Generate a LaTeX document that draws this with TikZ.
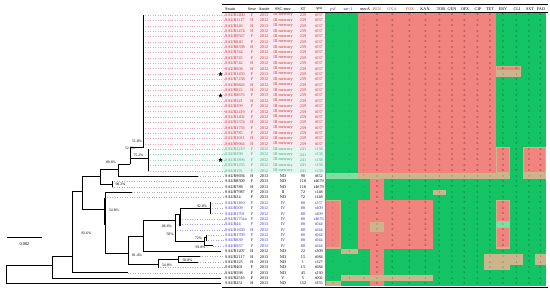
\documentclass[tikz,border=0pt]{standalone}
\usepackage{fontspec}
\setmainfont{Liberation Serif}
\usetikzlibrary{shapes.geometric}
\definecolor{cR}{RGB}{242,132,128}
\definecolor{cG}{RGB}{20,195,100}
\definecolor{cT}{RGB}{204,180,140}
\definecolor{cLG}{RGB}{130,222,160}
\definecolor{tR}{RGB}{200,45,45}
\definecolor{tG}{RGB}{50,170,115}
\definecolor{tB}{RGB}{45,45,205}
\definecolor{hR}{RGB}{190,80,70}
\definecolor{bgR}{RGB}{252,233,240}
\definecolor{bgG}{RGB}{228,246,240}
\definecolor{dR}{RGB}{236,160,195}
\definecolor{dG}{RGB}{140,210,180}
\definecolor{dB}{RGB}{165,165,235}
\definecolor{dK}{RGB}{175,175,175}
\def\colC{{333,349.5,364,377,392.5,409.5,425.5,439.5,452,464.5,477.5,490,503,516.5,529,540.5}}
\def\pR{-,-,+,R,R,R,R,R,R,R,R,R,S,S,S,S}
\def\pRe{-,-,+,R,R,R,R,R,R,R,R,R,R,R,S,S}
\def\pRi{-,-,+,R,R,R,R,R,R,R,R,R,I,I,S,S}
\def\pG{-,-,+,R,R,R,R,R,R,R,R,R,R,S,R,R}
\def\pT{-,-,+,I,I,I,I,I,I,I,I,I,I,S,I,I}
\def\pK{-,-,-,R,S,S,S,S,S,S,S,S,S,S,S,S}
\def\pKt{-,-,-,R,S,S,S,I,S,S,S,S,S,S,S,S}
\def\pB{+,-,+,R,R,R,R,S,S,S,S,S,R,S,S,S}
\def\pBs{+,-,+,I,R,R,R,S,S,S,S,S,S,S,S,S}
\def\pBi{+,-,+,I,R,R,R,S,S,S,S,S,R,S,S,S}
\def\pKa{-,I,-,R,S,S,S,S,S,S,S,S,S,S,S,S}
\def\pKb{-,-,-,R,S,S,S,S,S,S,S,I,I,I,S,I}
\def\pKc{-,-,-,R,S,S,S,S,S,S,S,I,I,S,S,S}
\def\pKd{-,I,I,I,I,I,I,S,S,S,S,S,S,S,S,S}
\def\pKe{I,-,-,R,S,S,S,S,S,S,S,S,S,S,S,S}
\newcommand\mytrow[8]{%
  \pgfmathsetmacro\yy{15+5.37*#1}%
  \node[tx,anchor=west,text=#8] (st#1) at (225,\yy) {#2};
  \node[tx,text=#8] (sx#1) at (252,\yy) {#3};
  \node[tx,text=#8] (yr#1) at (264,\yy) {#4};
  \node[tx,text=#8] (sc#1) at (283,\yy) {#5};
  \node[tx,text=#8] (ty#1) at (303,\yy) {#6};
  \node[tx,text=#8] (sp#1) at (319,\yy) {#7};
}
\newcommand\myletters[2]{%
  \pgfmathsetmacro\yy{15+5.37*#1}%
  \foreach \c [count=\k from 0] in #2 {
    \pgfmathsetmacro\xx{\colC[\k]}
    \node[lt] (l#1-\k) at (\xx,\yy) {\c};
  }
}
\newcommand\myfill[5]{\fill[#1] (#2,{12.315+5.37*#4}) rectangle (#3,{12.315+5.37*(#5+1)});}
\newcommand\myblk[4]{\fill[cT] (#1,{12.315+5.37*#3}) rectangle (#2,{12.315+5.37*(#4+1)});
  \fill[cR] ({#1+1.3},{12.315+5.37*#3+1.1}) rectangle ({#2-1.3},{12.315+5.37*(#4+1)-1.1});}
\begin{document}
\begin{tikzpicture}[x=1pt,y=-1pt,
  tx/.style={font=\fontsize{4.2}{5}\selectfont, inner sep=0pt},
  lt/.style={font=\fontsize{3}{3}\selectfont, inner sep=0pt, text opacity=0.55},
  bs/.style={font=\fontsize{3.8}{4}\selectfont, inner sep=0.3pt},
  br/.style={line width=0.9pt, line cap=rect},
  dt/.style={dotted, line width=0.45pt, shorten >=0.8pt},
  stmark/.style={star, star points=5, star point ratio=2.4, fill=black, inner sep=0pt, minimum size=4.6pt}]
\useasboundingbox (0,0) rectangle (550,294);
\fill[white] (0,0) rectangle (550,294);
% row tints
\fill[bgR] (222,12.315) rectangle (325,146.565);
\fill[bgG] (222,146.565) rectangle (325,173.415);
% colour grid
\myfill{cG}{325}{546}{0}{50}
\myfill{cR}{358}{496}{0}{29}
\myfill{cR}{358}{433}{35}{43}
\myfill{cR}{370}{384}{31}{50}
\myblk{325}{341}{35}{43}
\myblk{496}{521}{10}{10}
\myfill{cT}{496}{521}{11}{11}
\myblk{496}{510}{25}{29}
\myblk{523}{546}{25}{29}
\myfill{cT}{358}{510}{30}{30}
\myfill{cT}{523}{546}{30}{30}
\myfill{cLG}{325}{358}{30}{30}
\myfill{cT}{433}{446}{33}{33}
\myblk{496}{510}{35}{38}
\myfill{cLG}{496}{510}{39}{39}
\myblk{496}{510}{40}{43}
\myfill{cT}{370}{384}{39}{40}
\myfill{cT}{341}{358}{44}{44}
\myfill{cT}{484}{523}{45}{46}
\myfill{cT}{484}{510}{47}{47}
\myfill{cT}{535}{546}{45}{46}
\myfill{cT}{341}{433}{49}{49}
\myfill{cT}{325}{341}{50}{50}
\draw[line width=0.8pt, color=gray!70!green] (325.4,12.315) -- (325.4,286.2);
% cell letters
\foreach \r in {0,1,...,9} {\myletters{\r}{\pR}}
\myletters{10}{\pRe}
\myletters{11}{\pRi}
\foreach \r in {12,13,...,24} {\myletters{\r}{\pR}}
\foreach \r in {25,26,...,29} {\myletters{\r}{\pG}}
\myletters{30}{\pT}
\myletters{31}{\pK}
\myletters{32}{\pK}
\myletters{33}{\pKt}
\myletters{34}{\pK}
\foreach \r in {35,36,37,38} {\myletters{\r}{\pB}}
\myletters{39}{\pBs}
\myletters{40}{\pBi}
\foreach \r in {41,42,43} {\myletters{\r}{\pB}}
\myletters{44}{\pKa}
\myletters{45}{\pKb}
\myletters{46}{\pKb}
\myletters{47}{\pKc}
\myletters{48}{\pK}
\myletters{49}{\pKd}
\myletters{50}{\pKe}
% header
\draw[line width=0.6pt] (222,4.5) -- (548,4.5);
\draw[line width=0.3pt] (222,12.3) -- (548,12.3);
\draw[line width=0.6pt] (222,287.6) -- (548,287.6);
\node[tx,anchor=west] (hStrain) at (225,9) {Strain};
\node[tx] (hSexe) at (252,9) {Sexe};
\node[tx] (hAnnee) at (264,9) {Année};
\node[tx] (hSCC) at (283,9) {SSC-mec};
\node[tx] (hST) at (303,9) {ST};
\node[tx] (hspa) at (319,9) {\itshape spa};
\node[tx,text=tB] (hpvl) at (333,9) {\itshape pvl};
\node[tx,text=tB] (hsar) at (348,9) {\itshape sar-1};
\node[tx] (hmec) at (365,9) {\itshape mecA};
\node[tx,text=hR] (hPEN) at (377,9) {PEN};
\node[tx,text=hR] (hOXA) at (392,9) {OXA};
\node[tx,text=hR] (hFOX) at (410,9) {FOX};
\node[tx] (hKAN) at (425,9) {KAN};
\node[tx] (hTOB) at (441,9) {TOB};
\node[tx] (hGEN) at (452,9) {GEN};
\node[tx] (hOFX) at (465,9) {OFX};
\node[tx] (hCIP) at (478,9) {CIP};
\node[tx] (hTET) at (490,9) {TET};
\node[tx] (hERY) at (503,9) {ERY};
\node[tx] (hCLI) at (517,9) {CLI};
\node[tx] (hSXT) at (530,9) {SXT};
\node[tx] (hFAD) at (541,9) {FAD};
% rows
\mytrow{0}{SAUR1400}{F}{2013}{III mercury}{239}{t037}{tR}
\mytrow{1}{SAUR1117}{H}{2012}{III mercury}{239}{t037}{tR}
\mytrow{2}{SAUR246}{H}{2013}{III mercury}{239}{t037}{tR}
\mytrow{3}{SAUR1474}{H}{2012}{III mercury}{239}{t037}{tR}
\mytrow{4}{SAUR9567}{F}{2012}{III mercury}{239}{t037}{tR}
\mytrow{5}{SAUR840}{F}{2012}{III mercury}{239}{t037}{tR}
\mytrow{6}{SAUR8598}{H}{2012}{III mercury}{239}{t037}{tR}
\mytrow{7}{SAUR744}{F}{2012}{III mercury}{239}{t037}{tR}
\mytrow{8}{SAUR745}{F}{2012}{III mercury}{239}{t037}{tR}
\mytrow{9}{SAUR742}{H}{2012}{III mercury}{239}{t037}{tR}
\mytrow{10}{SAUR608}{H}{2012}{III mercury}{239}{t037}{tR}
\mytrow{11}{SAUR1450}{F}{2013}{III mercury}{239}{t037}{tR}
\mytrow{12}{SAUR7238}{F}{2012}{III mercury}{239}{t037}{tR}
\mytrow{13}{SAUR9826}{H}{2012}{III mercury}{239}{t037}{tR}
\mytrow{14}{SAUR822}{H}{2012}{III mercury}{239}{t037}{tR}
\mytrow{15}{SAUR8676}{F}{2013}{III mercury}{239}{t037}{tR}
\mytrow{16}{SAUR341}{H}{2012}{III mercury}{239}{t037}{tR}
\mytrow{17}{SAUR399}{F}{2012}{III mercury}{239}{t037}{tR}
\mytrow{18}{SAUR2419}{F}{2012}{III mercury}{239}{t037}{tR}
\mytrow{19}{SAUR1402}{F}{2012}{III mercury}{239}{t037}{tR}
\mytrow{20}{SAUR1374}{H}{2012}{III mercury}{239}{t037}{tR}
\mytrow{21}{SAUR1756}{F}{2012}{III mercury}{239}{t037}{tR}
\mytrow{22}{SAUR785}{F}{2012}{III mercury}{239}{t037}{tR}
\mytrow{23}{SAUR1011}{H}{2012}{III mercury}{239}{t037}{tR}
\mytrow{24}{SAUR9964}{H}{2012}{III mercury}{239}{t037}{tR}
\mytrow{25}{SAUR2219}{F}{2012}{III mercury}{241}{t138}{tG}
\mytrow{26}{SAUR390}{F}{2012}{III mercury}{241}{t138}{tG}
\mytrow{27}{SAUR1896}{F}{2012}{III mercury}{241}{t138}{tG}
\mytrow{28}{SAUR1255}{F}{2012}{III mercury}{241}{t138}{tG}
\mytrow{29}{SAUR191}{F}{2012}{III mercury}{241}{t138}{tG}
\mytrow{30}{SAUR9694}{H}{2013}{ND}{90}{t852}{black}
\mytrow{31}{SAUR8509}{F}{2013}{ND}{118}{t4679}{black}
\mytrow{32}{SAUR788}{H}{2013}{ND}{118}{t4679}{black}
\mytrow{33}{SAUR7987}{F}{2013}{II}{72}{t148}{black}
\mytrow{34}{SAUR24}{F}{2013}{ND}{72}{t148}{black}
\mytrow{35}{SAUR1160}{F}{2012}{IV}{80}{t257}{tB}
\mytrow{36}{SAUR509}{F}{2012}{IV}{80}{t409}{tB}
\mytrow{37}{SAUR1701}{F}{2012}{IV}{80}{t409}{tB}
\mytrow{38}{SAUR1754a}{F}{2012}{IV}{80}{t4676}{tB}
\mytrow{39}{SAUR44}{F}{2013}{IV}{80}{t044}{tB}
\mytrow{40}{SAUR1650}{H}{2012}{IV}{80}{t044}{tB}
\mytrow{41}{SAUR1709}{F}{2012}{IV}{80}{t044}{tB}
\mytrow{42}{SAUR839}{F}{2013}{IV}{80}{t044}{tB}
\mytrow{43}{SAUR937}{F}{2013}{IV}{80}{t044}{tB}
\mytrow{44}{SAUR1207}{H}{2012}{ND}{22}{t309}{black}
\mytrow{45}{SAUR2117}{H}{2013}{ND}{15}{t084}{black}
\mytrow{46}{SAUR125}{H}{2013}{ND}{1}{t127}{black}
\mytrow{47}{SAUR401}{F}{2013}{ND}{15}{t084}{black}
\mytrow{48}{SAUR598}{F}{2013}{ND}{45}{t230}{black}
\mytrow{49}{SAUR2516}{F}{2013}{V}{5}{t002}{black}
\mytrow{50}{SAUR251}{H}{2013}{ND}{152}{t355}{black}
% tips
\foreach \i/\x in {0/143,1/143,2/143,3/143,4/143,5/143,6/143,7/143,8/143,9/143,10/143,11/143,12/143,13/143,14/143,15/143,16/143,17/143,18/143,19/143,20/143,21/143,22/143,23/143,24/143,25/148,26/148,27/148,28/148,29/148,30/198,31/112,32/112,33/132,34/105,35/210,36/210,37/210,38/180,39/180,40/175,41/206,42/206,43/213,44/221,45/200,46/198,47/158,48/128,49/221,50/221}
  \coordinate (t\i) at (\x,{15+5.37*\i});
% dotted leaders
\foreach \i in {0,1,...,24} \draw[dt,dR] (t\i) -- (st\i.west);
\foreach \i in {25,26,...,29} \draw[dt,dG] (t\i) -- (st\i.west);
\foreach \i in {30,31,...,34} \draw[dt,dK] (t\i) -- (st\i.west);
\foreach \i in {35,36,...,43} \draw[dt,dB] (t\i) -- (st\i.west);
\foreach \i in {45,46,47,48} \draw[dt,dK] (t\i) -- (st\i.west);
% stars
\node[stmark] (star11) at (220.5,74.07) {};
\node[stmark] (star15) at (220.5,95.55) {};
\node[stmark] (star27) at (220.5,159.99) {};
% internal nodes
\coordinate (R0) at (6,274);
\coordinate (N52b) at (52,265);
\coordinate (N72) at (72,256.7);
\coordinate (N82) at (82,191.7);
\coordinate (N100) at (100,176);
\coordinate (N98) at (112,184);
\coordinate (N80) at (118,169);
\coordinate (N52) at (130,164);
\coordinate (NR) at (143,147.5);
\coordinate (NG) at (148,158);
\coordinate (N54) at (105,209);
\coordinate (N81) at (128,253);
\coordinate (N143) at (143,236.7);
\coordinate (NB) at (175,220);
\coordinate (NC) at (180,214);
\coordinate (ND) at (210,208.32);
\coordinate (NE) at (204,241.7);
\coordinate (NF) at (206,237.9);
\coordinate (N158) at (158,264);
\coordinate (N58) at (178,259.3);
% branches
\draw[br] (R0) |- (N52b); \draw[br] (R0) |- (t50);
\draw[br] (N52b) |- (N72); \draw[br] (N52b) |- (t49);
\draw[br] (N72) |- (N82); \draw[br] (N72) |- (t48);
\draw[br] (N82) |- (N100); \draw[br] (N82) |- (N54);
\draw[br] (N100) |- (N80); \draw[br] (N100) |- (N98);
\draw[br] (N98) |- (t31); \draw[br] (N98) |- (t32);
\draw[br] (N80) |- (N52); \draw[br] (N80) |- (t30);
\draw[br] (N52) |- (NR); \draw[br] (N52) |- (NG);
\draw[br] (NR) |- (t0);
\draw[br] (NG) |- (t25); \draw[br] (NG) |- (t29);
\draw[br] (N54) |- (t33); \draw[br] (N54) |- (t34); \draw[br] (N54) |- (N81);
\draw[line width=2pt] (105,198) -- (105,225);
\draw[br] (N81) |- (N143); \draw[br] (N81) |- (N158);
\draw[br] (N143) |- (NB); \draw[br] (N143) |- (t44);
\draw[br] (NB) |- (NC); \draw[br] (NB) |- (t40); \draw[br] (NB) |- (NE);
\draw[br] (NC) |- (ND); \draw[br] (NC) |- (t38); \draw[br] (NC) |- (t39);
\draw[line width=1.8pt] (180,214) -- (180,226);
\draw[br] (ND) |- (t35); \draw[br] (ND) |- (t37);
\draw[br] (NE) |- (NF); \draw[br] (NE) |- (t43);
\draw[br] (NF) |- (t41); \draw[br] (NF) |- (t42);
\draw[br] (N158) |- (N58); \draw[br] (N158) |- (t47);
\draw[br] (N58) |- (t45); \draw[br] (N58) |- (t46);
% bootstrap labels
\node[bs] (b518) at (137,141.5) {51.8\%};
\node[bs] (b528) at (130,148) {52.8\%};
\node[bs] (b752) at (138.5,155.5) {75.2\%};
\node[bs] (b806) at (111,162.5) {80.6\%};
\node[bs] (b982) at (120.5,184.5) {98.2\%};
\node[bs] (b548a) at (114,210) {54.8\%};
\node[bs] (b826) at (86.5,233) {82.6\%};
\node[bs] (b814) at (137,255) {81.4\%};
\node[bs] (b866) at (167,226) {86.6\%};
\node[bs] (b50) at (170,234.3) {50\%};
\node[bs] (b928) at (202,206.5) {92.8\%};
\node[bs] (b72) at (198.5,238.5) {72\%};
\node[bs] (b938) at (200.5,247) {93.8\%};
\node[bs] (b548b) at (167,265) {54.8\%};
\node[bs] (b588) at (187.5,260) {58.8\%};
% scale bar
\coordinate (sb1) at (7,237);
\coordinate (sb2) at (42,237);
\draw[line width=0.6pt] (sb1) -- (sb2);
\node[font=\fontsize{4.4}{5}\selectfont, inner sep=0pt] (sbl) at (24.5,244) {0.002};
\end{tikzpicture}
\end{document}
